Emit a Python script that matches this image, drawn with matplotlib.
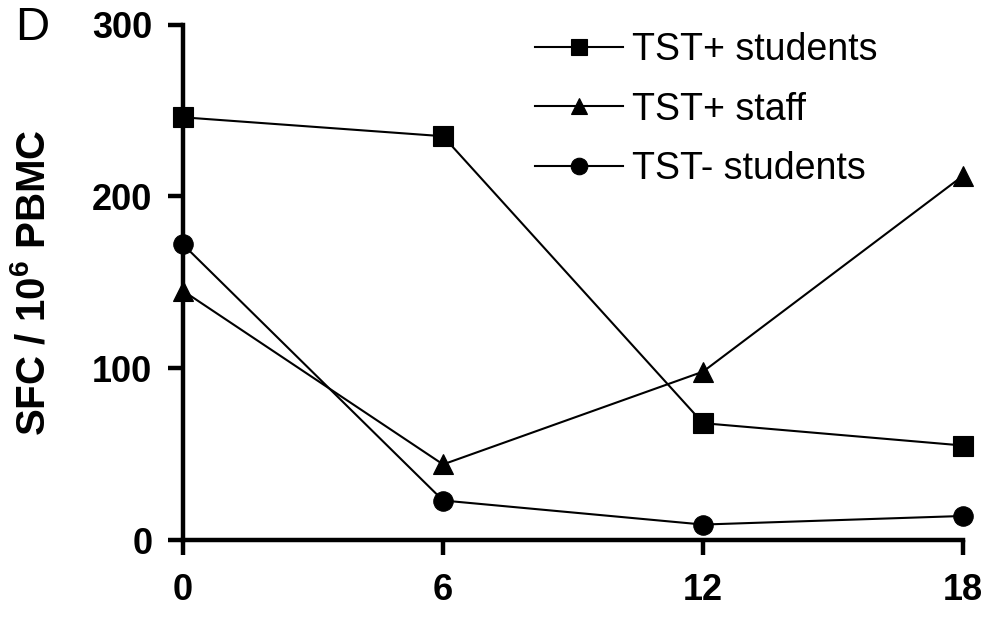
import matplotlib
matplotlib.use("Agg")
import matplotlib.pyplot as plt

plt.rcParams['font.family'] = ['Liberation Sans', 'DejaVu Sans']
plt.rcParams['mathtext.fontset'] = 'custom'
plt.rcParams['mathtext.rm'] = 'Liberation Sans'
plt.rcParams['mathtext.bf'] = 'Liberation Sans:bold'

# Data
months = [0, 6, 12, 18]
tst_pos_students = [246, 235, 68, 55]
tst_pos_staff = [145, 44, 98, 212]
tst_neg_students = [172, 23, 9, 14]

series_labels = ["TST+ students", "TST+ staff", "TST- students"]
series_markers = ["s", "^", "o"]

x_ticks = [0, 6, 12, 18]
y_ticks = [0, 100, 200, 300]

fig = plt.figure(figsize=(9.82, 6.21), dpi=100)
ax = fig.add_axes([0.1864, 0.1304, 0.7943, 0.8301])

line_style = {"color": "black", "linewidth": 1.5, "markersize": 14,
              "markeredgewidth": 0.8, "clip_on": False}

for vals, label, marker in zip([tst_pos_students, tst_pos_staff, tst_neg_students],
                               series_labels, series_markers):
    ax.plot(months, vals, marker=marker, label=label, **line_style)

ax.set_xlim(0, 18)
ax.set_ylim(0, 300)
ax.set_xticks(x_ticks)
ax.set_yticks(y_ticks)

for side in ["top", "right"]:
    ax.spines[side].set_visible(False)
for side in ["left", "bottom"]:
    ax.spines[side].set_linewidth(3.2)

ax.tick_params(axis="both", direction="out", length=11, width=3.2,
               pad=11, labelsize=26)
ax.tick_params(axis="x", pad=13)
for lbl in ax.get_xticklabels() + ax.get_yticklabels():
    lbl.set_fontweight("bold")

ax.set_ylabel(r"SFC / 10$^{\mathbf{6}}$ PBMC", fontsize=29, fontweight="bold")
ax.yaxis.set_label_coords(-0.167, 0.5)

leg = ax.legend(loc="upper left", bbox_to_anchor=(0.451, 0.985),
                frameon=False, fontsize=27, handlelength=2.35,
                handletextpad=0.25, labelspacing=0.62, borderpad=0,
                borderaxespad=0, markerscale=0.85)

fig.text(0.015, 0.99, "D", fontsize=34, va="top", ha="left")

fig.savefig("out.png", dpi=100)
